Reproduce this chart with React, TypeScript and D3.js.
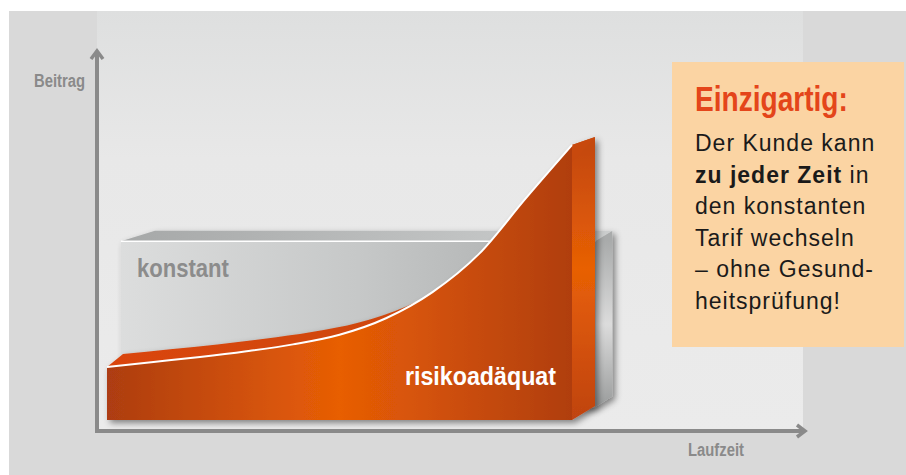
import React from 'react';
import * as d3 from 'd3';

// Laufzeit (abstract steps) and Beitrag (relative, 0..100)
const laufzeit = [0, 1, 2, 3, 4, 5, 6, 7, 8, 9, 10];
const risikoBeitrag = [19.3, 21.1, 22.9, 25.0, 27.5, 31.0, 37.0, 46.5, 60.4, 80.5, 100];
const konstantBeitrag = 65;
const konstantLaufzeit = [0.3, 10.5];
const konstantSockel = 4.7;

const serienNamen = ['konstant', 'risikoadäquat'];
const achsenTitel = ['Beitrag', 'Laufzeit'];
const hinweisTitel = 'Einzigartig:';
const hinweisZeilen = [
  [{ t: 'Der Kunde kann', b: false }],
  [{ t: 'zu jeder Zeit', b: true }, { t: ' in', b: false }],
  [{ t: 'den konstanten', b: false }],
  [{ t: 'Tarif wechseln', b: false }],
  [{ t: '– ohne Gesund-', b: false }],
  [{ t: 'heitsprüfung!', b: false }],
];

const W = 906;
const H = 475;
const sans = "'Liberation Sans', Arial, sans-serif";
const axisGray = '#8a8a8a';

type Pt = { x: number; y: number };

// bold condensed look: squeeze a bold grotesque horizontally
const Cond: React.FC<{
  x: number;
  y: number;
  size: number;
  sx: number;
  fill: string;
  anchor?: 'start' | 'middle' | 'end';
  children: React.ReactNode;
}> = ({ x, y, size, sx, fill, anchor = 'start', children }) => (
  <text
    transform={`translate(${x},${y}) scale(${sx},1)`}
    textAnchor={anchor}
    fontFamily={sans}
    fontWeight="bold"
    fontSize={size}
    fill={fill}
  >
    {children}
  </text>
);

const App: React.FC = () => {
  const x = d3.scaleLinear().domain([0, 10]).range([107, 572]);
  const y = d3.scaleLinear().domain([0, 100]).range([420, 145]);

  // simple fake perspective for the 3D depth of each block
  const depthOrange = (px: number, py: number): [number, number] => [
    16 + (7 * (px - x(0))) / (x(10) - x(0)),
    -14 + (6 * (y(0) - py)) / (y(0) - y(100)),
  ];
  const gx0 = x(konstantLaufzeit[0]);
  const gx1 = x(konstantLaufzeit[1]);
  const depthGray = (px: number): [number, number] => [34 - (17 * (px - gx0)) / (gx1 - gx0), -10.5];

  const front: Pt[] = laufzeit.map((t, i) => ({ x: x(t), y: y(risikoBeitrag[i]) }));
  const curve = d3.curveMonotoneX;

  const frontArea = d3
    .area<Pt>()
    .x((d) => d.x)
    .y0(y(0))
    .y1((d) => d.y)
    .curve(curve)(front);

  const topFace = d3
    .area<Pt>()
    .x0((d) => d.x + depthOrange(d.x, d.y)[0])
    .y0((d) => d.y + depthOrange(d.x, d.y)[1])
    .x1((d) => d.x)
    .y1((d) => d.y)
    .curve(curve)(front);

  const edgeLine = d3
    .line<Pt>()
    .x((d) => d.x)
    .y((d) => d.y)
    .curve(curve)(front);

  const last = front[front.length - 1];
  const [rdxT, rdyT] = depthOrange(last.x, last.y);
  const [rdxB, rdyB] = depthOrange(last.x, y(0));
  const rightFace = [
    [last.x, last.y],
    [last.x + rdxT, last.y + rdyT],
    [last.x + rdxB, y(0) + rdyB],
    [last.x, y(0)],
  ];

  const gTop = y(konstantBeitrag);
  const gBot = y(konstantSockel);
  const [gdl] = depthGray(gx0);
  const [gdr, gdy] = depthGray(gx1);
  const grayTop = [
    [gx0, gTop],
    [gx0 + gdl, gTop + gdy],
    [gx1 + gdr, gTop + gdy],
    [gx1, gTop],
  ];
  const grayRight = [
    [gx1, gTop],
    [gx1 + gdr, gTop + gdy],
    [gx1 + gdr, gBot + gdy],
    [gx1, gBot],
  ];
  const poly = (p: number[][]) => 'M' + p.map((q) => q.join(',')).join('L') + 'Z';

  const axisX0 = x(0) - 10;
  const axisY0 = y(0) + 11;

  return (
    <svg width={W} height={H} style={{ position: 'absolute', left: 0, top: 0 }}>
      <defs>
        <linearGradient id="plotBg" x1="0" y1="0" x2="0" y2="1">
          <stop offset="0" stopColor="#dedfdf" />
          <stop offset="0.35" stopColor="#e8e8e8" />
          <stop offset="1" stopColor="#ebebeb" />
        </linearGradient>
        <linearGradient id="grayFront" gradientUnits="userSpaceOnUse" x1={gx0} y1="0" x2={gx1} y2="0">
          <stop offset="0" stopColor="#dcdddd" />
          <stop offset="0.5" stopColor="#c6c8c8" />
          <stop offset="1" stopColor="#a9abab" />
        </linearGradient>
        <linearGradient id="grayTop" gradientUnits="userSpaceOnUse" x1={gx0} y1="0" x2={gx1} y2="0">
          <stop offset="0" stopColor="#a6a8a8" />
          <stop offset="1" stopColor="#cbcdcd" />
        </linearGradient>
        <linearGradient id="grayRight" gradientUnits="userSpaceOnUse" x1="0" y1={gTop} x2="0" y2={gBot}>
          <stop offset="0" stopColor="#a9abab" />
          <stop offset="0.5" stopColor="#dcdcdc" />
          <stop offset="1" stopColor="#9a9c9c" />
        </linearGradient>
        <linearGradient id="orFront" gradientUnits="userSpaceOnUse" x1={x(0)} y1="0" x2={x(10)} y2="0">
          <stop offset="0" stopColor="#ad3d12" />
          <stop offset="0.5" stopColor="#e85e05" />
          <stop offset="1" stopColor="#b03e0d" />
        </linearGradient>
        <linearGradient id="orTop" gradientUnits="userSpaceOnUse" x1={x(0)} y1="0" x2={x(10)} y2="0">
          <stop offset="0" stopColor="#da4510" />
          <stop offset="1" stopColor="#c8480a" />
        </linearGradient>
        <linearGradient id="orRight" gradientUnits="userSpaceOnUse" x1="0" y1={last.y} x2="0" y2={y(0)}>
          <stop offset="0" stopColor="#c4480b" />
          <stop offset="0.45" stopColor="#e86005" />
          <stop offset="1" stopColor="#bf4312" />
        </linearGradient>
        <filter id="shadow" x="-10%" y="-10%" width="130%" height="130%">
          <feDropShadow dx="3" dy="3" stdDeviation="3" floodColor="#000" floodOpacity="0.45" />
        </filter>
      </defs>

      {/* background panels */}
      <rect x={9} y={11} width={W - 9} height={H - 11} fill="#d9d9d9" />
      <rect x={axisX0} y={11} width={803 - axisX0} height={axisY0 - 11} fill="url(#plotBg)" />

      {/* konstant block */}
      <g filter="url(#shadow)">
        <path d={poly(grayRight)} fill="url(#grayRight)" />
        <path d={poly(grayTop)} fill="url(#grayTop)" />
        <rect x={gx0} y={gTop} width={gx1 - gx0} height={gBot - gTop} fill="url(#grayFront)" />
      </g>
      <line x1={gx0} x2={gx1} y1={gTop} y2={gTop} stroke="#fff" strokeWidth={1.5} />
      <Cond x={gx0 + 16} y={277} size={26} sx={0.85} fill="#8c8c8c">
        {serienNamen[0]}
      </Cond>

      {/* risikoadäquat block */}
      <g filter="url(#shadow)">
        <path d={poly(rightFace)} fill="url(#orRight)" />
        <path d={topFace || ''} fill="url(#orTop)" />
        <path d={frontArea || ''} fill="url(#orFront)" />
      </g>
      <path d={edgeLine || ''} fill="none" stroke="#fff" strokeWidth={2} />
      <Cond x={556} y={385} size={25} sx={0.93} fill="#fff" anchor="end">
        {serienNamen[1]}
      </Cond>

      {/* axes */}
      <g stroke={axisGray} strokeWidth={4} fill="none">
        <line x1={axisX0} y1={axisY0 + 2} x2={axisX0} y2={51} />
        <path d={`M${axisX0 - 6},${59} L${axisX0},${51} L${axisX0 + 6},${59}`} strokeWidth={3.5} />
        <line x1={axisX0 - 2} y1={axisY0} x2={805} y2={axisY0} />
        <path d={`M${797},${axisY0 - 6} L${805},${axisY0} L${797},${axisY0 + 6}`} strokeWidth={3.5} />
      </g>
      <Cond x={85} y={87} size={19} sx={0.78} fill={axisGray} anchor="end">
        {achsenTitel[0]}
      </Cond>
      <Cond x={716} y={456} size={19} sx={0.78} fill={axisGray} anchor="middle">
        {achsenTitel[1]}
      </Cond>

      {/* callout */}
      <rect x={672} y={62} width={232} height={285} fill="#fbd4a3" />
      <Cond x={695} y={111} size={36} sx={0.78} fill="#e4451a">
        {hinweisTitel}
      </Cond>
      {hinweisZeilen.map((zeile, i) => (
        <text
          key={i}
          x={695}
          y={151 + i * 31.6}
          fontFamily={sans}
          fontSize={23}
          letterSpacing={1}
          fill="#1a1a1a"
        >
          {zeile.map((s, j) => (
            <tspan key={j} fontWeight={s.b ? 'bold' : 'normal'}>
              {s.t}
            </tspan>
          ))}
        </text>
      ))}
    </svg>
  );
};

export default App;
